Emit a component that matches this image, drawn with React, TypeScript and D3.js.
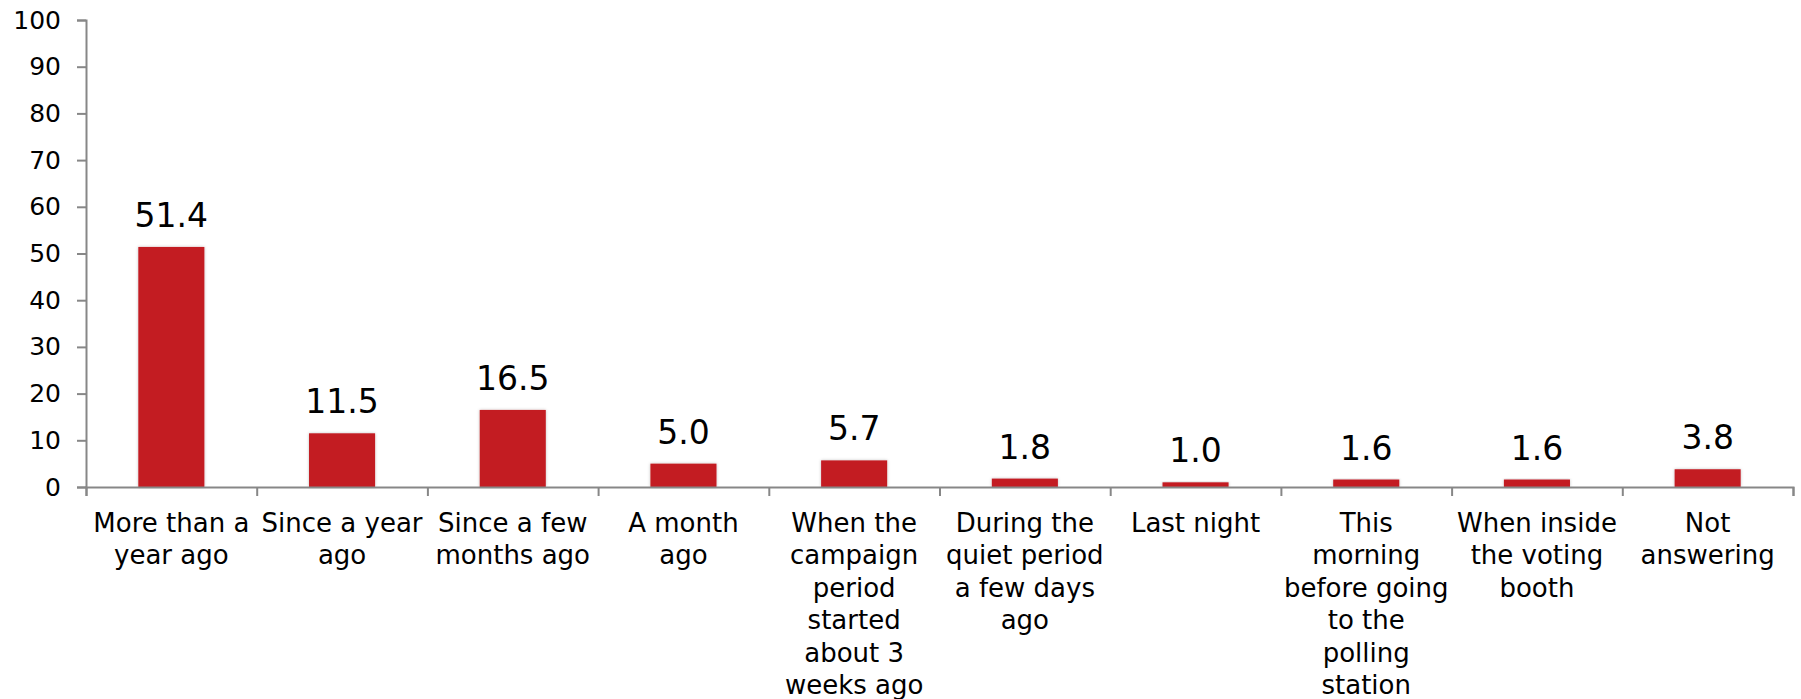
import React, { useEffect, useRef } from 'react';
import * as d3 from 'd3';

const categories = [
  ['More than a', 'year ago'],
  ['Since a year', 'ago'],
  ['Since a few', 'months ago'],
  ['A month', 'ago'],
  ['When the', 'campaign', 'period', 'started', 'about 3', 'weeks ago'],
  ['During the', 'quiet period', 'a few days', 'ago'],
  ['Last night'],
  ['This', 'morning', 'before going', 'to the', 'polling', 'station'],
  ['When inside', 'the voting', 'booth'],
  ['Not', 'answering'],
];
const values = [51.4, 11.5, 16.5, 5.0, 5.7, 1.8, 1.0, 1.6, 1.6, 3.8];
const yTicks = [0, 10, 20, 30, 40, 50, 60, 70, 80, 90, 100];

const W = 1801;
const H = 699;
const font = 'Verdana, "DejaVu Sans", sans-serif';

export default function App() {
  const node = useRef<SVGSVGElement | null>(null);

  useEffect(() => {
    const svg = d3.select(node.current);
    svg.selectAll('*').remove();

    const left = 86, right = 1793, top = 20, bottom = 487;

    const x = d3.scaleBand<number>()
      .domain(values.map((d, i) => i))
      .range([left, right])
      .paddingInner(0)
      .paddingOuter(0);
    const barW = x.bandwidth() * 0.387;

    const y = d3.scaleLinear().domain([0, 100]).range([bottom, top]);

    const defs = svg.append('defs');
    const f = defs.append('filter').attr('id', 'shadow')
      .attr('x', '-20%').attr('y', '-20%').attr('width', '140%').attr('height', '140%');
    f.append('feDropShadow')
      .attr('dx', 0).attr('dy', 0).attr('stdDeviation', 1.6)
      .attr('flood-color', '#000').attr('flood-opacity', 0.25);

    // bars
    svg.append('g').selectAll('rect')
      .data(values)
      .enter()
      .append('rect')
        .attr('x', (d, i) => x(i)! + x.bandwidth() / 2 - barW / 2)
        .attr('y', d => y(d))
        .attr('width', barW)
        .attr('height', d => y(0) - y(d))
        .attr('fill', '#C31C23')
        .attr('filter', 'url(#shadow)');

    // value labels
    svg.append('g').selectAll('text')
      .data(values)
      .enter()
      .append('text')
        .attr('x', (d, i) => x(i)! + x.bandwidth() / 2)
        .attr('y', d => y(d) - 20)
        .attr('text-anchor', 'middle')
        .attr('font-family', font)
        .attr('font-size', 33)
        .attr('fill', '#000')
        .text(d => d.toFixed(1));

    // y axis
    const yAxis = d3.axisLeft(y).tickValues(yTicks).tickSize(9).tickPadding(16);
    const gy = svg.append('g')
      .attr('transform', `translate(${left}, 0)`)
      .call(yAxis);
    gy.select('.domain').attr('stroke', '#878787').attr('stroke-width', 2);
    gy.selectAll('.tick line').attr('stroke', '#878787').attr('stroke-width', 2);
    gy.selectAll('.tick text')
      .attr('font-family', font)
      .attr('font-size', 25)
      .attr('fill', '#000');

    // x axis
    const xLin = d3.scaleLinear().domain([0, values.length]).range([left, right]);
    const xAxis = d3.axisBottom(xLin).ticks(values.length).tickSize(9).tickFormat(() => '');
    const gx = svg.append('g')
      .attr('transform', `translate(0, ${bottom})`)
      .call(xAxis);
    gx.select('.domain').attr('stroke', '#878787').attr('stroke-width', 2);
    gx.selectAll('.tick line').attr('stroke', '#878787').attr('stroke-width', 2);

    // category labels
    const lab = svg.append('g').selectAll('text')
      .data(categories)
      .enter()
      .append('text')
        .attr('x', (d, i) => x(i)! + x.bandwidth() / 2)
        .attr('y', 532)
        .attr('text-anchor', 'middle')
        .attr('font-family', font)
        .attr('font-size', 26)
        .attr('fill', '#000');
    lab.selectAll('tspan')
      .data(d => d)
      .enter()
      .append('tspan')
        .attr('x', function () { return (this.parentNode as SVGTextElement).getAttribute('x'); })
        .attr('dy', (d, i) => (i === 0 ? 0 : 32.4))
        .text(d => d);
  }, []);

  return (
    <svg
      ref={node}
      width={W}
      height={H}
      style={{ position: 'absolute', left: 0, top: 0, background: '#fff' }}
    />
  );
}
